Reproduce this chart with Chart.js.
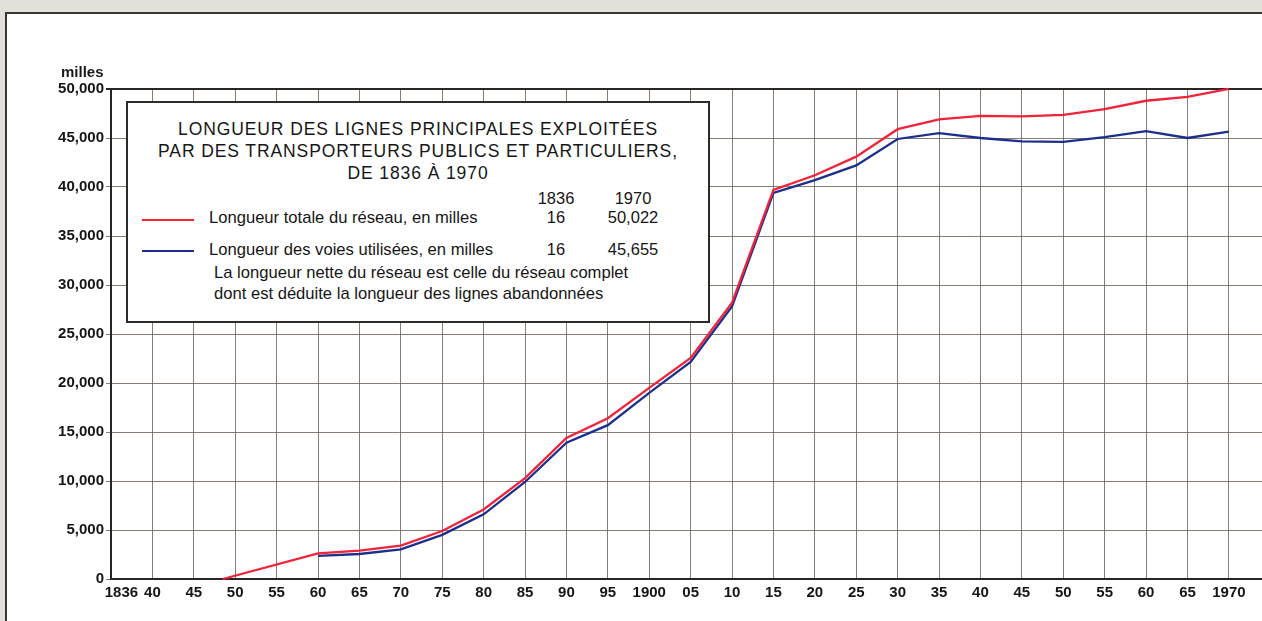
<!DOCTYPE html>
<html lang="fr">
<head>
<meta charset="utf-8">
<title>Longueur des lignes principales exploitées</title>
<script src="https://cdn.jsdelivr.net/npm/chart.js@4.4.1/dist/chart.umd.min.js"></script>
<style>
  body { margin: 0; width: 1262px; height: 621px; overflow: hidden; background: #e3dfd9; font-family: 'Liberation Sans', Arial, sans-serif; color: #161616; }
  #panel { position: absolute; left: 5px; top: 12px; width: 1400px; height: 800px; background: #fff; border-top: 2px solid #3b3632; border-left: 2px solid #3b3632; }
  #chart { position: absolute; left: 0; top: 0; }
  #unit { position: absolute; left: 61px; top: 63px; font-size: 15px; font-weight: bold; color: #1a1a1a; }
  #box { position: absolute; left: 126px; top: 101px; width: 580px; height: 218px; background: #fff; border: 2px solid #2e2a27; }
  #box .title { position: absolute; left: 0; width: 100%; text-align: center; font-size: 17.5px; letter-spacing: 0.9px; line-height: 22px; top: 15px; }
  #box .row { position: absolute; font-size: 16.6px; white-space: nowrap; }
  #box .num { position: absolute; font-size: 16.5px; width: 80px; margin-left: -40px; text-align: center; }
  #box .swatch { position: absolute; width: 52px; height: 0; border-top: 2px solid; }
</style>
</head>
<body>
<div id="panel"></div>
<canvas id="chart" width="1262" height="621"></canvas>
<div id="unit">milles</div>
<div id="box">
  <div class="title">LONGUEUR DES LIGNES PRINCIPALES EXPLOITÉES<br>PAR DES TRANSPORTEURS PUBLICS ET PARTICULIERS,<br>DE 1836 À 1970</div>
  <div class="num" style="left:428px; top:86px">1836</div>
  <div class="num" style="left:505px; top:86px">1970</div>
  <div class="swatch" style="left:14px; top:116px; border-color:#f0233a"></div>
  <div class="row" style="left:81px; top:105px">Longueur totale du réseau, en milles</div>
  <div class="num" style="left:428px; top:105px">16</div>
  <div class="num" style="left:505px; top:105px">50,022</div>
  <div class="swatch" style="left:14px; top:147px; border-color:#1c2f8c"></div>
  <div class="row" style="left:81px; top:137px">Longueur des voies utilisées, en milles</div>
  <div class="num" style="left:428px; top:137px">16</div>
  <div class="num" style="left:505px; top:137px">45,655</div>
  <div class="row" style="left:86px; top:160px">La longueur nette du réseau est celle du réseau complet</div>
  <div class="row" style="left:86px; top:181px">dont est déduite la longueur des lignes abandonnées</div>
</div>
<script>
// étiquettes de l'axe horizontal (1836, puis tous les 5 ans)
const xTickLabels = ['1836','40','45','50','55','60','65','70','75','80','85','90','95','1900',
                     '05','10','15','20','25','30','35','40','45','50','55','60','65','1970'];

// Longueur totale du réseau (milles)
const totalYears = [1848.5, 1860, 1865, 1870, 1875, 1880, 1885, 1890, 1895, 1900, 1905, 1910,
                    1915, 1920, 1925, 1930, 1935, 1940, 1945, 1950, 1955, 1960, 1965, 1970];
const totalMiles = [0, 2620, 2890, 3400, 4900, 7100, 10300, 14400, 16400, 19500, 22550, 28200,
                    39700, 41200, 43100, 45900, 46900, 47250, 47200, 47350, 47950, 48800, 49200, 50022];

// Longueur des voies utilisées (milles)
const usedYears = [1860, 1865, 1870, 1875, 1880, 1885, 1890, 1895, 1900, 1905, 1910,
                   1915, 1920, 1925, 1930, 1935, 1940, 1945, 1950, 1955, 1960, 1965, 1970];
const usedMiles = [2350, 2550, 3030, 4500, 6600, 9900, 13900, 15700, 19000, 22150, 27800,
                   39400, 40700, 42200, 44900, 45500, 45000, 44650, 44600, 45100, 45700, 45000, 45655];

// l'axe donne la même largeur à 1836-40 qu'aux intervalles de 5 ans
function yearPos(y) {
  return y <= 1840 ? (y - 1836) / 4 : 1 + (y - 1840) / 5;
}
const toPoints = (years, vals) => years.map((y, i) => ({ x: yearPos(y), y: vals[i] }));

const GRID = 'rgba(105, 92, 82, 0.8)';
const DARK = '#2a2623';
const TICK_FONT = { family: "'Liberation Sans', Arial, sans-serif", size: 15, weight: 'bold' };

new Chart(document.getElementById('chart'), {
  type: 'line',
  data: {
    datasets: [
      {
        label: 'Longueur totale du réseau, en milles',
        data: toPoints(totalYears, totalMiles),
        borderColor: '#f0233a',
        borderWidth: 2.3,
        pointRadius: 0,
        tension: 0,
        clip: 4
      },
      {
        label: 'Longueur des voies utilisées, en milles',
        data: toPoints(usedYears, usedMiles),
        borderColor: '#1c2f8c',
        borderWidth: 2.3,
        pointRadius: 0,
        tension: 0,
        clip: 4
      }
    ]
  },
  options: {
    responsive: false,
    animation: false,
    layout: { padding: { top: 89, right: 0, left: 0, bottom: 0 } },
    plugins: { legend: { display: false }, tooltip: { enabled: false } },
    scales: {
      x: {
        type: 'linear',
        min: 0,
        max: 27.8,
        afterBuildTicks: (s) => { s.ticks = xTickLabels.map((_, i) => ({ value: i })); },
        afterFit: (s) => { s.height = 42; },
        ticks: {
          autoSkip: false,
          maxRotation: 0,
          padding: 5,
          color: '#151515',
          font: TICK_FONT,
          // 1836 est décalé vers la droite sur l'original
          callback: (v) => v === 0 ? '     ' + xTickLabels[0] : (xTickLabels[v] ?? '')
        },
        grid: { color: GRID, lineWidth: 1, tickLength: 0 },
        border: { color: DARK, width: 2 }
      },
      y: {
        min: 0,
        max: 50000,
        afterFit: (s) => { s.width = 111; },
        ticks: {
          stepSize: 5000,
          padding: 2,
          color: '#151515',
          font: TICK_FONT,
          callback: (v) => v.toLocaleString('en-US')
        },
        grid: {
          color: (c) => c.tick && c.tick.value === 50000 ? DARK : GRID,
          lineWidth: (c) => c.tick && c.tick.value === 50000 ? 2 : 1,
          tickLength: 5
        },
        border: { color: DARK, width: 2 }
      }
    }
  }
});
</script>
</body>
</html>
